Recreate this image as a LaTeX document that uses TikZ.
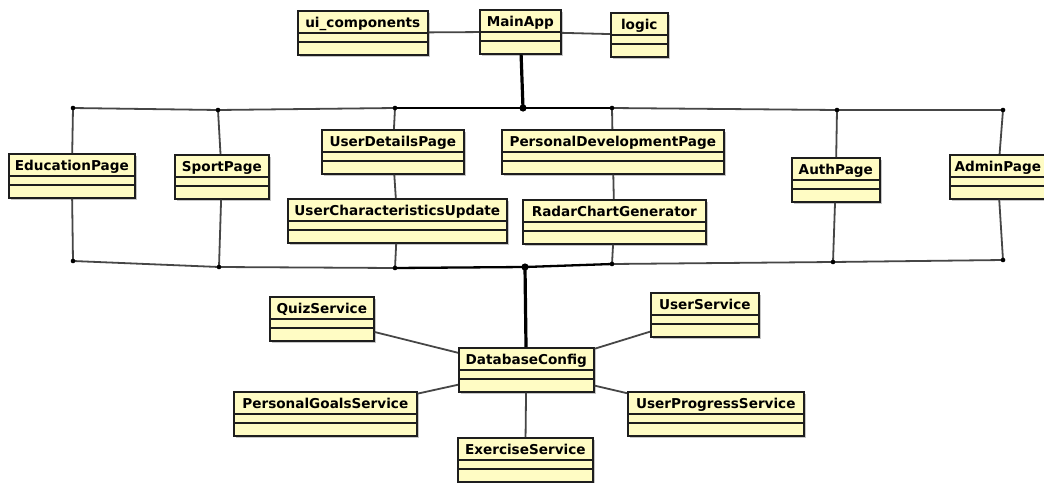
\documentclass[tikz,border=0pt]{standalone}
\usepackage{fontspec}
\setmainfont{DejaVu Sans}
\usetikzlibrary{shadows}
\definecolor{clsfill}{RGB}{255,252,196}
\definecolor{boxline}{RGB}{30,30,30}
\definecolor{conngray}{RGB}{70,70,70}
\tikzset{
  cls/.style={draw=boxline, line width=1.6pt, fill=clsfill, anchor=north west,
    inner ysep=0pt, inner xsep=2pt, text height=17pt, text depth=27pt,
    font=\fontsize{13.6}{14}\selectfont\bfseries,
    drop shadow={shadow xshift=2pt, shadow yshift=-2pt, fill=black, opacity=0.22},
    path picture={
      \draw[boxline, line width=1.4pt] ([yshift=-22pt]path picture bounding box.north west) -- ([yshift=-22pt]path picture bounding box.north east);
      \draw[boxline, line width=1.4pt] ([yshift=-31pt]path picture bounding box.north west) -- ([yshift=-31pt]path picture bounding box.north east);
    }},
  conn/.style={draw=conngray, line width=1.8pt},
  busmid/.style={draw=black, line width=2.3pt},
  thickconn/.style={draw=black, line width=3.2pt},
  dot/.style={fill=black}
}
\begin{document}
\begin{tikzpicture}[x=1pt,y=-1pt]
\fill[white] (0,0) rectangle (1044,482);
\useasboundingbox (0,0) rectangle (1044,482);

% junction points
\coordinate (t1) at (73,108);
\coordinate (t2) at (218,110);
\coordinate (t3) at (395,108);
\coordinate (tm) at (523,108);
\coordinate (t4) at (612,108);
\coordinate (t5) at (837,110);
\coordinate (t6) at (1003,110);
\coordinate (b1) at (73,261);
\coordinate (b2) at (219,267);
\coordinate (b3) at (395,268);
\coordinate (bm) at (525,267);
\coordinate (b4) at (612,264);
\coordinate (b5) at (833,262);
\coordinate (b6) at (1003,260);

% class boxes
\node[cls, minimum width=130pt] (ui) at (297,10) {ui\_components};
\node[cls, minimum width=81pt] (main) at (479,9) {MainApp};
\node[cls, minimum width=57pt] (logic) at (610,12) {logic};

\node[cls, minimum width=126pt] (edu) at (8,153) {EducationPage};
\node[cls, minimum width=94pt] (sport) at (174,154) {SportPage};
\node[cls, minimum width=142pt] (udp) at (321,129) {UserDetailsPage};
\node[cls, minimum width=219pt] (ucu) at (287,198) {UserCharacteristicsUpdate};
\node[cls, minimum width=222pt] (pdp) at (501,129) {PersonalDevelopmentPage};
\node[cls, minimum width=183pt] (radar) at (522,199) {RadarChartGenerator};
\node[cls, minimum width=88pt] (auth) at (791,157) {AuthPage};
\node[cls, minimum width=96pt] (admin) at (949,154) {AdminPage};

\node[cls, minimum width=104pt] (quiz) at (269,296) {QuizService};
\node[cls, minimum width=108pt] (us) at (650,292) {UserService};
\node[cls, minimum width=135pt] (db) at (458,347) {DatabaseConfig};
\node[cls, minimum width=183pt] (pgs) at (233,391) {PersonalGoalsService};
\node[cls, minimum width=176pt] (ups) at (627,391) {UserProgressService};
\node[cls, minimum width=135pt] (ex) at (457,437) {ExerciseService};

% top connections
\draw[conn] (ui) -- (main);
\draw[conn] (main) -- (logic);
\draw[thickconn] (main) -- (tm);

% top bus
\draw[conn] (t1) -- (t2) -- (t3);
\draw[busmid] (t3) -- (tm) -- (t4);
\draw[conn] (t4) -- (t5) -- (t6);

% bottom bus
\draw[conn] (b1) -- (b2) -- (b3);
\draw[busmid] (b3) -- (bm) -- (b4);
\draw[conn] (b4) -- (b5) -- (b6);

% verticals
\draw[conn] (t1) -- (edu);  \draw[conn] (edu) -- (b1);
\draw[conn] (t2) -- (sport); \draw[conn] (sport) -- (b2);
\draw[conn] (t3) -- (udp);  \draw[conn] (udp) -- (ucu); \draw[conn] (ucu) -- (b3);
\draw[conn] (t4) -- (pdp);  \draw[conn] (pdp) -- (radar); \draw[conn] (radar) -- (b4);
\draw[conn] (t5) -- (auth); \draw[conn] (auth) -- (b5);
\draw[conn] (t6) -- (admin); \draw[conn] (admin) -- (b6);

% database
\draw[thickconn] (bm) -- (db);
\draw[conn] (quiz) -- (db);
\draw[conn] (us) -- (db);
\draw[conn] (pgs) -- (db);
\draw[conn] (ups) -- (db);
\draw[conn] (db) -- (ex);

% dots
\foreach \p in {t1,t2,t3,t4,t5,t6,b1,b2,b3,b4,b5,b6} \fill[dot] (\p) circle (2.3pt);
\fill[dot] (tm) circle (3.6pt);
\fill[dot] (bm) circle (3.6pt);
\end{tikzpicture}
\end{document}
